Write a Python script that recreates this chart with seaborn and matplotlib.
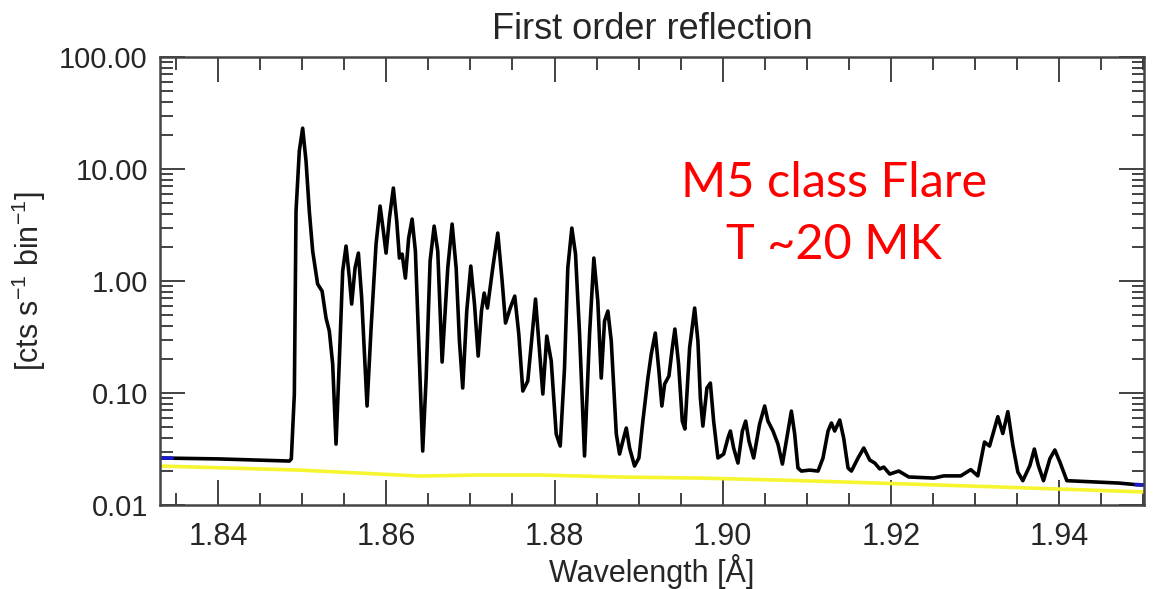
import numpy as np
import pandas as pd
import matplotlib
matplotlib.use("Agg")
import matplotlib.pyplot as plt
from matplotlib.ticker import FixedLocator, FormatStrFormatter, LogLocator, MultipleLocator
import seaborn as sns

# ---- data ----
wavelength = [1.83298, 1.84012, 1.84845, 1.84869, 1.84905, 1.84925, 1.84964, 1.85004, 1.85044, 1.85083,
              1.85123, 1.85182, 1.85235, 1.85282, 1.85321, 1.85361, 1.85401, 1.85440, 1.85480, 1.85520,
              1.85560, 1.85587, 1.85627, 1.85667, 1.85706, 1.85770, 1.85818, 1.85877, 1.85925, 1.85964,
              1.85996, 1.86036, 1.86083, 1.86123, 1.86155, 1.86187, 1.86226, 1.86265, 1.86306, 1.86345,
              1.86385, 1.86432, 1.86473, 1.86520, 1.86568, 1.86611, 1.86663, 1.86730, 1.86782, 1.86830,
              1.86869, 1.86908, 1.86956, 1.87004, 1.87048, 1.87092, 1.87131, 1.87163, 1.87202, 1.87265,
              1.87325, 1.87377, 1.87417, 1.87473, 1.87527, 1.87575, 1.87623, 1.87682, 1.87735, 1.87774,
              1.87813, 1.87861, 1.87908, 1.87961, 1.88020, 1.88068, 1.88119, 1.88158, 1.88206, 1.88250,
              1.88298, 1.88357, 1.88417, 1.88468, 1.88515, 1.88556, 1.88595, 1.88635, 1.88675, 1.88735,
              1.88774, 1.88813, 1.88854, 1.88893, 1.88952, 1.89004, 1.89051, 1.89111, 1.89151, 1.89199,
              1.89242, 1.89277, 1.89310, 1.89361, 1.89401, 1.89432, 1.89476, 1.89520, 1.89551, 1.89607,
              1.89667, 1.89706, 1.89735, 1.89765, 1.89813, 1.89854, 1.89893, 1.89944, 1.90012, 1.90063,
              1.90092, 1.90131, 1.90182, 1.90235, 1.90274, 1.90313, 1.90369, 1.90440, 1.90500, 1.90539,
              1.90599, 1.90658, 1.90711, 1.90758, 1.90818, 1.90857, 1.90896, 1.90937, 1.91036, 1.91135,
              1.91194, 1.91254, 1.91294, 1.91333, 1.91393, 1.91440, 1.91492, 1.91532, 1.91611, 1.91679,
              1.91750, 1.91810, 1.91869, 1.91917, 1.91988, 1.92095, 1.92214, 1.92512, 1.92631, 1.92833,
              1.92952, 1.93036, 1.93115, 1.93175, 1.93274, 1.93333, 1.93393, 1.93452, 1.93512, 1.93571,
              1.93655, 1.93708, 1.93756, 1.93817, 1.93893, 1.93952, 1.94012, 1.94095, 1.94321, 1.94714,
              1.94917, 1.95036]
counts = [0.0263, 0.0258, 0.0247, 0.0258, 0.0980, 4.217, 14.49, 23.2, 11.79, 4.217,
          1.853, 0.940, 0.814, 0.4673, 0.3578, 0.1815, 0.0350, 0.1931, 1.228, 2.054,
          1.064, 0.6232, 1.306, 1.778, 0.7050, 0.0766, 0.3805, 2.140, 4.673, 2.795,
          1.778, 3.652, 6.77, 3.434, 1.605, 1.742, 1.064, 2.42, 3.578, 1.853,
          0.2738, 0.03035, 0.1361, 1.509, 3.097, 1.853, 0.1891, 1.306, 3.228, 1.306,
          0.2912, 0.1109, 0.5396, 1.361, 0.6232, 0.2140, 0.5396, 0.7815, 0.5741, 1.306,
          2.683, 1.0, 0.4217, 0.5741, 0.7345, 0.3365, 0.1042, 0.128, 0.3365, 0.6906,
          0.2912, 0.0980, 0.3228, 0.1931, 0.0431, 0.03363, 0.1672, 1.306, 2.973, 1.742,
          0.3365, 0.02738, 0.3365, 1.605, 0.663, 0.1361, 0.4394, 0.5396, 0.2912, 0.0431,
          0.02853, 0.03728, 0.0487, 0.0323, 0.0223, 0.0263, 0.0562, 0.1361, 0.2230, 0.3434,
          0.1572, 0.0766, 0.1203, 0.1418, 0.2521, 0.3727, 0.1815, 0.0562, 0.0477, 0.2521,
          0.5741, 0.2912, 0.0902, 0.0507, 0.1109, 0.1228, 0.0562, 0.0263, 0.0285, 0.0396,
          0.0458, 0.0323, 0.0237, 0.0458, 0.0562, 0.0373, 0.0263, 0.0529, 0.0766, 0.0562,
          0.0458, 0.0350, 0.0232, 0.0373, 0.0690, 0.0431, 0.0214, 0.0201, 0.0205, 0.0201,
          0.0263, 0.0458, 0.0540, 0.0458, 0.0574, 0.0396, 0.0214, 0.0201, 0.0263, 0.0323,
          0.0252, 0.0237, 0.0210, 0.0218, 0.0189, 0.0201, 0.0178, 0.0174, 0.0182, 0.0182,
          0.0207, 0.0182, 0.0365, 0.0336, 0.0615, 0.0435, 0.0682, 0.0343, 0.0197, 0.0165,
          0.0225, 0.0316, 0.0225, 0.0165, 0.0259, 0.0310, 0.0242, 0.0165, 0.0162, 0.0157,
          0.0152, 0.0151]

continuum_wl = [1.83298, 1.84964, 1.86393, 1.87107, 1.87821, 1.88774, 1.89726, 1.90679, 1.91512, 1.93298, 1.95036]
continuum_cts = [0.0223, 0.0205, 0.01815, 0.01853, 0.01853, 0.01778, 0.0174, 0.0167, 0.0160, 0.01448, 0.01306]

edge_left_wl = [1.83298, 1.83452]
edge_left_cts = [0.0263, 0.0262]
edge_right_wl = [1.94917, 1.95036]
edge_right_cts = [0.0152, 0.0151]

x_ticks = [1.84, 1.86, 1.88, 1.90, 1.92, 1.94]
y_ticks = [0.01, 0.1, 1, 10, 100]

title = "First order reflection"
xlabel = "Wavelength [Å]"
ylabel = r"[cts s$^{-1}$ bin$^{-1}$]"
note1 = "M5 class Flare"
note2 = "T ~20 MK"

# ---- style ----
sns.set_style("ticks")
narrow = ["Liberation Sans Narrow", "Liberation Sans", "DejaVu Sans"]
plt.rcParams["font.family"] = narrow
plt.rcParams["mathtext.fontset"] = "custom"
plt.rcParams["mathtext.rm"] = "Liberation Sans"
plt.rcParams["mathtext.it"] = "Liberation Sans"

fig = plt.figure(figsize=(11.53, 5.89), dpi=100)
ax = fig.add_axes([0.139, 0.1426, 0.853, 0.7604])

spec = pd.DataFrame({"wl": wavelength, "cts": counts})
cont = pd.DataFrame({"wl": continuum_wl, "cts": continuum_cts})

sns.lineplot(data=cont, x="wl", y="cts", ax=ax, color="#f5f530", lw=2.6,
             estimator=None, sort=False)
sns.lineplot(data=spec, x="wl", y="cts", ax=ax, color="black", lw=2.6,
             estimator=None, sort=False)
sns.lineplot(x=edge_left_wl, y=edge_left_cts, ax=ax, color="#1a1acc", lw=2.6, estimator=None)
sns.lineplot(x=edge_right_wl, y=edge_right_cts, ax=ax, color="#1a1acc", lw=2.6, estimator=None)

ax.set_yscale("log")
ax.set_xlim(1.8331, 1.9501)
ax.set_ylim(0.01, 100)

ax.xaxis.set_major_locator(FixedLocator(x_ticks))
ax.xaxis.set_minor_locator(MultipleLocator(0.005))
ax.xaxis.set_major_formatter(FormatStrFormatter("%.2f"))
ax.yaxis.set_major_locator(FixedLocator(y_ticks))
ax.yaxis.set_minor_locator(LogLocator(base=10, subs=np.arange(2, 10)))
ax.yaxis.set_major_formatter(FormatStrFormatter("%.2f"))

ax.tick_params(which="both", direction="in", top=True, right=True, width=1.3, color="#333333")
ax.tick_params(which="major", length=18)
ax.tick_params(which="minor", length=9)
ax.tick_params(axis="x", which="major", pad=12, labelsize=22)
ax.tick_params(axis="y", which="major", pad=9, labelsize=21)
for s in ax.spines.values():
    s.set_linewidth(1.8)
    s.set_color("#444444")

ax.set_title(title, fontsize=26, pad=13)
ax.set_xlabel(xlabel, fontsize=22, labelpad=2)
ax.set_ylabel(ylabel, fontsize=22, labelpad=8)

ax.text(0.6846, 0.719, note1, transform=ax.transAxes, ha="center", va="center",
        color="#ff0000", fontsize=35, family=["Lato", "DejaVu Sans"])
ax.text(0.6846, 0.580, note2, transform=ax.transAxes, ha="center", va="center",
        color="#ff0000", fontsize=35, family=["Lato", "DejaVu Sans"])

fig.savefig("out.png", dpi=100)
